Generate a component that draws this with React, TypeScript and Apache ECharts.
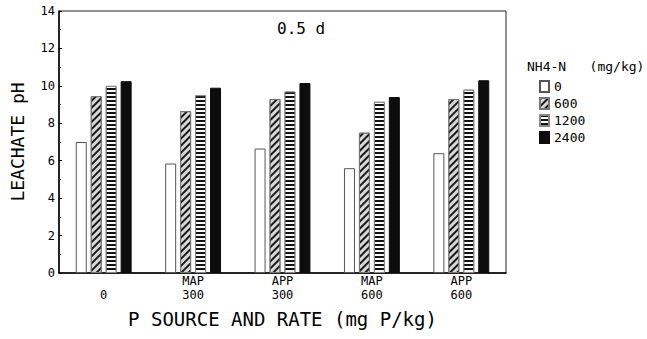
import React, { useEffect, useRef } from "react";
import * as echarts from "echarts";

// P source and rate treatments
const categories = ["\n0", "MAP\n300", "APP\n300", "MAP\n600", "APP\n600"];
// NH4-N rates (mg/kg)
const seriesNames = ["0", "600", "1200", "2400"];
// Leachate pH after 0.5 d, per NH4-N rate
const ph0 = [7.0, 5.85, 6.65, 5.6, 6.4];
const ph600 = [9.45, 8.65, 9.3, 7.5, 9.3];
const ph1200 = [10.0, 9.5, 9.7, 9.15, 9.8];
const ph2400 = [10.25, 9.9, 10.15, 9.4, 10.3];
const yTicks = [0, 2, 4, 6, 8, 10, 12, 14];

const MONO = "DejaVu Sans Mono";

export default function App() {
  const ref = useRef<HTMLDivElement>(null);

  useEffect(() => {
    if (!ref.current) return;
    const chart = echarts.init(ref.current, undefined, { renderer: "svg" });

    const styles = [
      { color: "#ffffff", borderColor: "#555", borderWidth: 1 },
      {
        color: "#d8d8d8",
        borderColor: "#777",
        borderWidth: 1,
        decal: {
          symbol: "rect",
          symbolSize: 1,
          dashArrayX: [[1, 0]],
          dashArrayY: [2, 3],
          rotation: -Math.PI / 4,
          color: "#1a1a1a",
        },
      },
      {
        color: "#ffffff",
        borderColor: "#888",
        borderWidth: 1,
        decal: {
          symbol: "rect",
          symbolSize: 1,
          dashArrayX: [[1, 0]],
          dashArrayY: [2, 2],
          rotation: 0,
          color: "#111",
        },
      },
      { color: "#0d0d0d", borderColor: "#0d0d0d", borderWidth: 1 },
    ];
    const values = [ph0, ph600, ph1200, ph2400];

    chart.setOption({
      animation: false,
      backgroundColor: "#ffffff",
      textStyle: { fontFamily: MONO, color: "#000" },
      title: [
        {
          text: "0.5 d",
          left: 272,
          top: 15,
          textStyle: { fontFamily: MONO, fontSize: 16, fontWeight: "normal", color: "#000" },
        },
        {
          text: "NH4-N   (mg/kg)",
          left: 522,
          top: 55,
          textStyle: { fontFamily: MONO, fontSize: 13, fontWeight: "normal", color: "#000" },
        },
      ],
      legend: {
        orient: "vertical",
        left: 534,
        top: 75,
        itemWidth: 9,
        itemHeight: 11,
        itemGap: 4,
        icon: "rect",
        data: seriesNames,
        textStyle: { fontFamily: MONO, fontSize: 13, color: "#000" },
      },
      grid: {
        left: 57,
        right: 141,
        top: 11,
        bottom: 66,
        show: true,
        borderColor: "#222",
        borderWidth: 1,
        backgroundColor: "transparent",
      },
      xAxis: {
        type: "category",
        data: categories,
        name: "P SOURCE AND RATE (mg P/kg)",
        nameLocation: "middle",
        nameGap: 36,
        nameTextStyle: { fontFamily: MONO, fontSize: 19, color: "#000" },
        axisLine: { lineStyle: { color: "#000", width: 1.5 } },
        axisTick: { show: false },
        axisLabel: {
          fontFamily: MONO,
          fontSize: 12,
          color: "#000",
          lineHeight: 14,
          margin: 1,
        },
      },
      yAxis: {
        type: "value",
        min: yTicks[0],
        max: yTicks[yTicks.length - 1],
        interval: 2,
        name: "LEACHATE pH",
        nameLocation: "middle",
        nameGap: 33,
        nameRotate: 90,
        nameTextStyle: { fontFamily: MONO, fontSize: 18, color: "#000" },
        axisLine: { show: true, lineStyle: { color: "#000", width: 1.5 } },
        axisTick: { show: true, inside: true, length: 3, lineStyle: { color: "#000" } },
        minorTick: { show: true, splitNumber: 2, length: 2, lineStyle: { color: "#444" } },
        splitLine: { show: false },
        axisLabel: { fontFamily: MONO, fontSize: 12, color: "#000", margin: 4 },
      },
      series: seriesNames.map((name, i) => ({
        name,
        type: "bar",
        data: values[i],
        barWidth: 11,
        barGap: "36%",
        itemStyle: styles[i],
      })),
    });

    return () => chart.dispose();
  }, []);

  return (
    <div
      ref={ref}
      style={{ position: "fixed", left: 0, top: 0, width: 647, height: 339 }}
    />
  );
}
